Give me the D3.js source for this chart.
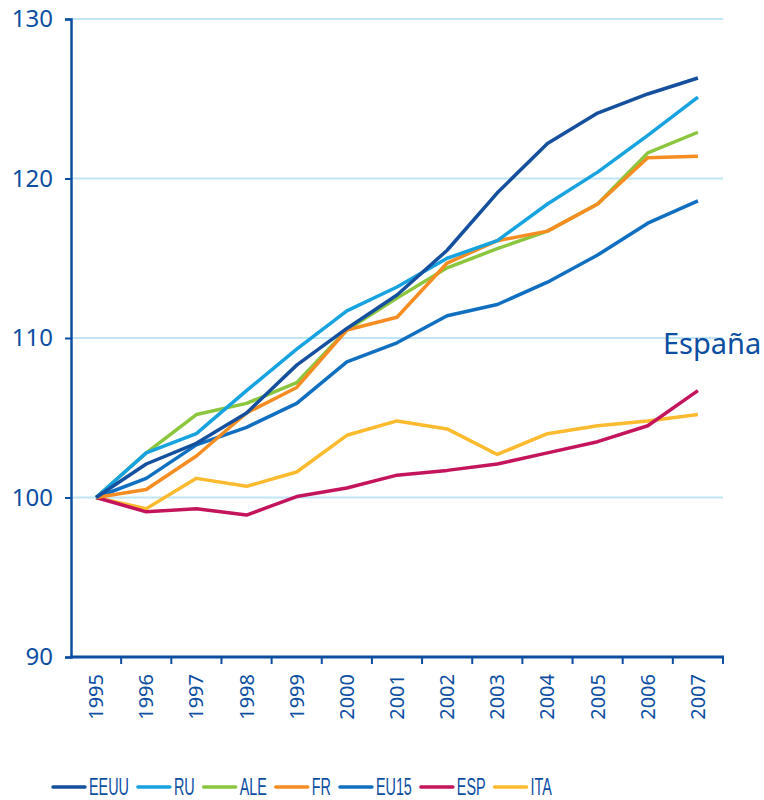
<!DOCTYPE html>
<html>
<head>
<meta charset="utf-8">
<script src="https://cdn.jsdelivr.net/npm/d3@7"></script>
<style>
body { margin: 0; background: #fff; }
svg { display: block; }
</style>
</head>
<body>
<svg id="chart" width="764" height="800"></svg>
<script>
// data
var years = ["1995","1996","1997","1998","1999","2000","2001","2002","2003","2004","2005","2006","2007"];
var eeuu = [100,102.1,103.4,105.3,108.3,110.6,112.7,115.5,119.1,122.2,124.1,125.3,126.3];
var ru   = [100,102.8,104.0,106.7,109.3,111.7,113.2,115.0,116.1,118.4,120.4,122.7,125.1];
var ale  = [100,102.8,105.2,105.9,107.2,110.5,112.5,114.4,115.6,116.7,118.4,121.6,122.9];
var fr   = [100,100.5,102.6,105.3,106.9,110.5,111.3,114.7,116.1,116.7,118.4,121.3,121.4];
var eu15 = [100,101.2,103.3,104.4,105.9,108.5,109.7,111.4,112.1,113.5,115.2,117.2,118.6];
var esp  = [100,99.1,99.3,98.9,100.06,100.6,101.4,101.7,102.1,102.8,103.5,104.5,106.7];
var ita  = [100,99.3,101.2,100.7,101.6,103.9,104.8,104.3,102.7,104.0,104.5,104.8,105.2];
var yTicks = [90,100,110,120,130];
var seriesNames = ["EEUU","RU","ALE","FR","EU15","ESP","ITA"];
var seriesColors = ["#15509e","#17a2e0","#8cc63e","#f68d22","#106fc0","#c4155c","#fcba2e"];

var series = [
    {name:"EEUU", values:eeuu},
    {name:"RU", values:ru},
    {name:"ALE", values:ale},
    {name:"FR", values:fr},
    {name:"EU15", values:eu15},
    {name:"ESP", values:esp},
    {name:"ITA", values:ita}
];

var axisColor = "#0c4ea2";
var svg = d3.select("#chart");

var x = d3.scaleBand().domain(years).range([71, 723]).padding(0);
var y = d3.scaleLinear().domain([90, 130]).range([657, 19]);
var color = d3.scaleOrdinal().domain(seriesNames).range(seriesColors);

// gridlines
svg.append("g").selectAll("line")
    .data(yTicks.filter(function(d){ return d > 90; }))
    .enter().append("line")
    .attr("x1", 71).attr("x2", 723)
    .attr("y1", function(d){ return y(d); })
    .attr("y2", function(d){ return y(d); })
    .attr("stroke", "#bfe5f6")
    .attr("stroke-width", 2);

// y axis
var yAxis = svg.append("g")
    .attr("transform", "translate(71,0)")
    .call(d3.axisLeft(y).tickValues(yTicks).tickSize(6).tickPadding(12));
yAxis.select(".domain").attr("stroke", axisColor).attr("stroke-width", 2.5);
yAxis.selectAll(".tick line").attr("stroke", axisColor).attr("stroke-width", 2);
yAxis.selectAll("text")
    .attr("fill", axisColor)
    .attr("font-family", "'Noto Sans', 'Open Sans', sans-serif")
    .attr("font-size", 24);

// x axis: ticks at band edges, labels rotated
var xAxis = svg.append("g").attr("transform", "translate(0,657)");
xAxis.append("line")
    .attr("x1", 70).attr("x2", 724)
    .attr("stroke", axisColor).attr("stroke-width", 3);
xAxis.selectAll("line.edge")
    .data(years.slice(1).concat(["end"]))
    .enter().append("line")
    .attr("class", "edge")
    .attr("x1", function(d){ return d === "end" ? 723 : x(d); })
    .attr("x2", function(d){ return d === "end" ? 723 : x(d); })
    .attr("y1", 0).attr("y2", 7)
    .attr("stroke", axisColor).attr("stroke-width", 2);
xAxis.selectAll("text")
    .data(years)
    .enter().append("text")
    .attr("transform", function(d){
        return "translate(" + (x(d) + x.bandwidth() / 2 + 7) + ",17) rotate(-90)";
    })
    .attr("text-anchor", "end")
    .attr("fill", axisColor)
    .attr("font-family", "'Noto Sans', 'Open Sans', sans-serif")
    .attr("font-size", 20)
    .text(function(d){ return d; });

// lines
var line = d3.line()
    .x(function(d, i){ return x(years[i]) + x.bandwidth() / 2; })
    .y(function(d){ return y(d); });

var drawOrder = ["ITA","ESP","EU15","ALE","FR","RU","EEUU"];
svg.append("g").selectAll("path")
    .data(drawOrder.map(function(n){ return series.find(function(s){ return s.name === n; }); }))
    .enter().append("path")
    .attr("d", function(d){ return line(d.values); })
    .attr("fill", "none")
    .attr("stroke", function(d){ return color(d.name); })
    .attr("stroke-width", 3.5)
    .attr("stroke-linejoin", "round");

// España label
svg.append("text")
    .attr("x", 663).attr("y", 354)
    .attr("fill", axisColor)
    .attr("font-family", "'Noto Sans', 'Open Sans', sans-serif")
    .attr("font-size", 29)
    .text("España");

// legend (no condensed font here, so squeeze a regular one)
var legend = svg.append("g").attr("transform", "translate(0,787)");
var lx = 53;
var squeeze = 0.625;
series.forEach(function(s){
    legend.append("line")
        .attr("x1", lx).attr("x2", lx + 32)
        .attr("stroke", color(s.name))
        .attr("stroke-width", 3.5)
        .attr("stroke-linecap", "round");
    var t = legend.append("text")
        .attr("transform", "translate(" + (lx + 36) + ",7.5) scale(" + squeeze + ",1)")
        .attr("fill", axisColor)
        .attr("font-family", "'Liberation Sans', Arial, sans-serif")
        .attr("font-size", 23)
        .text(s.name);
    lx = lx + 36 + t.node().getComputedTextLength() * squeeze + 9;
});
</script>
</body>
</html>
